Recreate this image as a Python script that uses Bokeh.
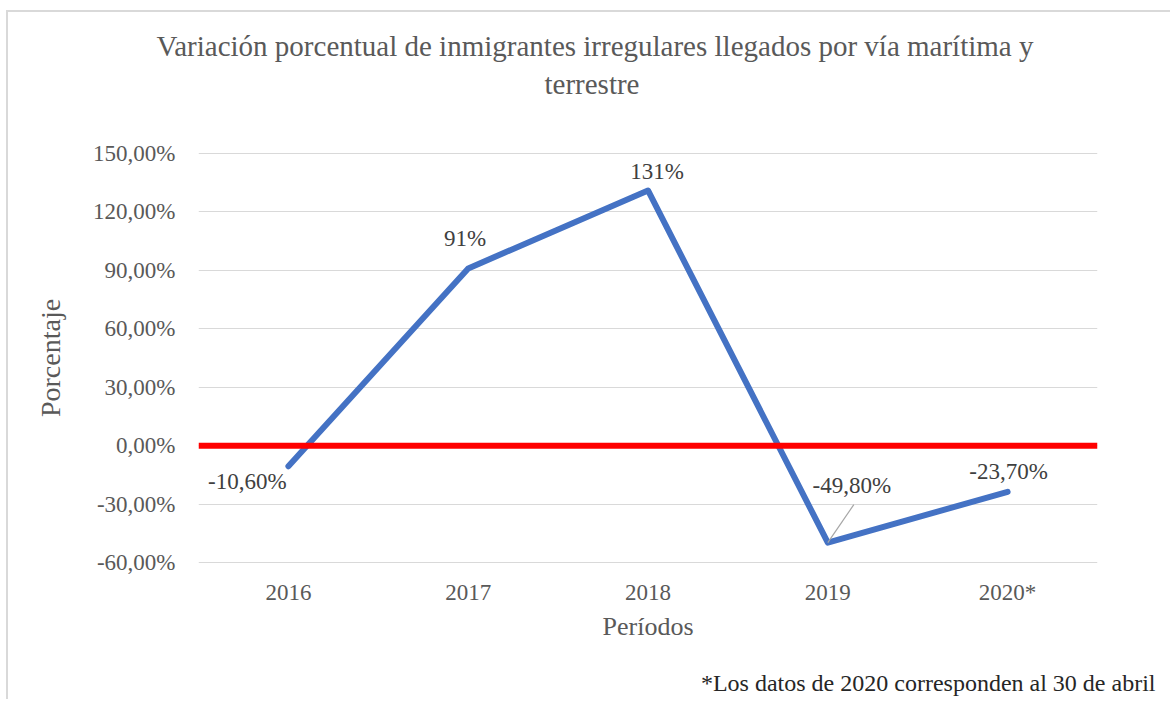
from bokeh.plotting import figure
from bokeh.models import FactorRange, Range1d, FixedTicker, CustomJSTickFormatter, Span, Title, ColumnDataSource
from bokeh.embed import file_html
from bokeh.resources import INLINE
from bokeh.core.properties import value

# ---------------- data ----------------
periods = ["2016", "2017", "2018", "2019", "2020*"]
variation = [-10.6, 91.0, 131.0, -49.8, -23.7]
point_labels = ["-10,60%", "91%", "131%", "-49,80%", "-23,70%"]
y_ticks = [-60, -30, 0, 30, 60, 90, 120, 150]

title_lines = ["Variación porcentual de inmigrantes irregulares llegados por vía marítima y",
               "terrestre"]
x_title = "Períodos"
y_title = "Porcentaje"
note = "*Los datos de 2020 corresponden al 30 de abril"

# ---------------- layout / style ----------------
W, H = 1164, 689
ML, MR, MT, MB = 190, 75, 140, 138
FONT = "Liberation Serif"
label_dx = [-41, -3, 9, 24, 1]
label_dy = [15, -30, -19, -57, -20]
leader_px = (26, 38)  # leader line for 2019 label
pad = 0.5

frame_w = W - ML - MR
frame_h = H - MT - MB

p = figure(width=W, height=H, output_backend="svg", toolbar_location=None,
           x_range=FactorRange(*periods, range_padding=0),
           y_range=Range1d(y_ticks[0] - pad, y_ticks[-1] + pad),
           min_border_left=ML, min_border_right=MR, min_border_top=MT, min_border_bottom=MB)
p.outline_line_color = None
p.background_fill_color = "white"
p.border_fill_color = "white"
p.styles = {"margin-left": "6px", "margin-top": "10px",
            "border-left": "2px solid #d9d9d9", "border-top": "2px solid #d9d9d9"}

p.xgrid.grid_line_color = None
p.ygrid.grid_line_color = "#d9d9d9"
p.ygrid.grid_line_width = 1
p.yaxis.ticker = FixedTicker(ticks=y_ticks)
p.yaxis.formatter = CustomJSTickFormatter(code="return tick.toFixed(2).replace('.', ',') + '%';")

for ax in (p.xaxis[0], p.yaxis[0]):
    ax.axis_line_color = None
    ax.major_tick_line_color = None
    ax.minor_tick_line_color = None
    ax.major_tick_out = 0
    ax.minor_tick_out = 0
    ax.major_label_text_font = FONT
    ax.major_label_text_font_size = "23px"
    ax.major_label_text_color = "#595959"
    ax.axis_label_text_font = FONT
    ax.axis_label_text_font_style = "normal"
    ax.axis_label_text_color = "#595959"

p.xaxis.axis_label = x_title
p.yaxis.axis_label = y_title
p.xaxis.axis_label_text_font_size = "26px"
p.yaxis.axis_label_text_font_size = "28px"
p.xaxis.major_label_standoff = 16
p.yaxis.major_label_standoff = 23
p.xaxis.axis_label_standoff = 4
p.yaxis.axis_label_standoff = 24

p.add_layout(Span(location=0, dimension="width", line_color="#ff0000", line_width=6))

src = ColumnDataSource(dict(x=periods, y=variation, t=point_labels, dx=label_dx, dy=label_dy))
p.line("x", "y", source=src, line_color="#4472c4", line_width=6, line_join="round", line_cap="round")

# leader line for the 2019 label
i = 3
x_per_px = len(periods) / frame_w
y_per_px = (y_ticks[-1] - y_ticks[0] + 2 * pad) / frame_h
p.segment(x0=[i + 0.5], y0=[variation[i]],
          x1=[i + 0.5 + leader_px[0] * x_per_px], y1=[variation[i] + leader_px[1] * y_per_px],
          line_color="#a6a6a6", line_width=1.2)

p.text("x", "y", text="t", source=src, x_offset="dx", y_offset="dy",
       text_font=value(FONT), text_font_size="23px", text_color="#404040",
       text_align="center", text_baseline="middle")

# title: spacer nearest the frame, then line 2, then line 1
p.add_layout(Title(text=" ", standoff=48, text_font_size="1px"), "above")
p.add_layout(Title(text=title_lines[1], align="left", offset=346, standoff=4,
                   text_font=FONT, text_font_size="29px", text_font_style="normal",
                   text_color="#595959"), "above")
p.add_layout(Title(text=title_lines[0], align="left", offset=-42, standoff=4,
                   text_font=FONT, text_font_size="29px", text_font_style="normal",
                   text_color="#595959"), "above")
# footnote: spacer under the x axis, then the note
p.add_layout(Title(text=" ", standoff=20, text_font_size="1px"), "below")
p.add_layout(Title(text=note, align="right", offset=-58, standoff=2,
                   text_font=FONT, text_font_size="24px", text_font_style="normal",
                   text_color="#262626"), "below")

open("out.html", "w").write(file_html(p, INLINE))
